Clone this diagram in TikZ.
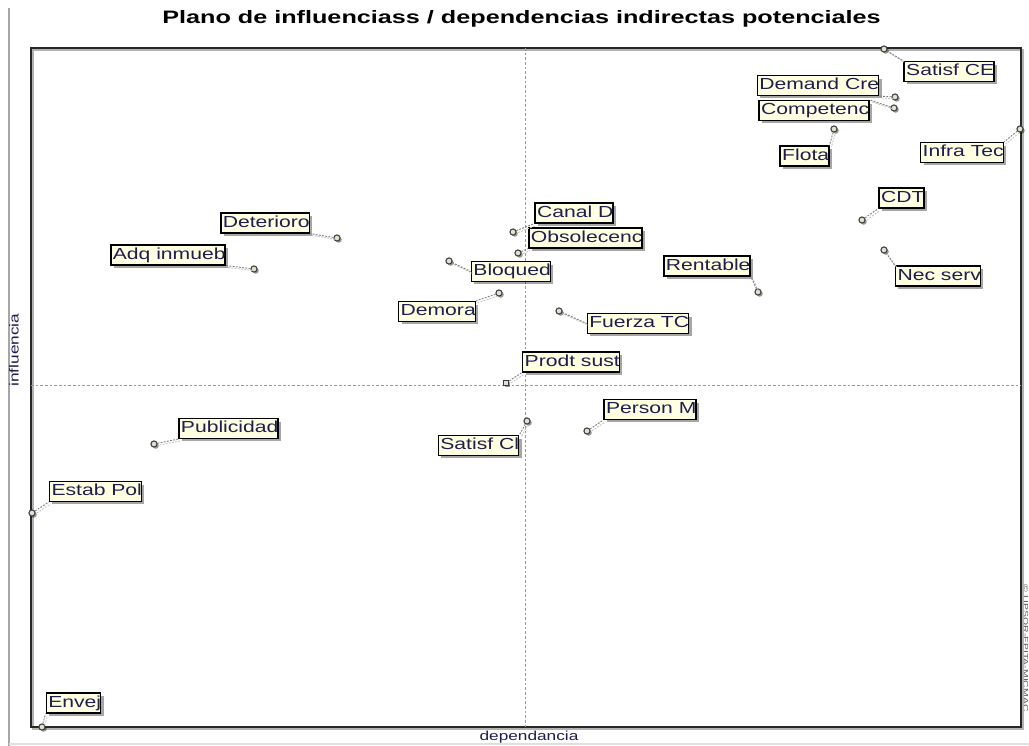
\documentclass[tikz,border=0pt]{standalone}
\usepackage{fontspec}
\setmainfont{Liberation Sans}
\newfontfamily\lblfont[FakeStretch=1.32]{Liberation Sans}
\newfontfamily\ttlfont[FakeStretch=1.4]{Liberation Sans}
\newfontfamily\cpyfont[FakeStretch=1.5]{Liberation Sans}
\usetikzlibrary{shadows}
\definecolor{ink}{RGB}{30,30,80}
\definecolor{cream}{RGB}{255,255,225}
\definecolor{dotfill}{RGB}{225,225,205}
\definecolor{dotline}{RGB}{60,60,60}
\begin{document}
\begin{tikzpicture}[x=0.75pt,y=-0.75pt,
  lbl/.style={draw=black, line width=1.1pt, fill=cream, text=ink,
    font=\lblfont\fontsize{12}{12}\selectfont, inner xsep=1.5pt, inner ysep=0pt,
    text height=8.9pt, text depth=2.6pt, minimum height=14.8pt,
    drop shadow={shadow xshift=2.2pt, shadow yshift=-2.2pt, fill=black, opacity=0.35},
    execute at end node={\kern-1.8pt}},
  dot/.style={circle, draw=dotline, line width=0.8pt, fill=dotfill, inner sep=0pt,
    minimum size=4.6pt,
    drop shadow={shadow xshift=1.3pt, shadow yshift=-1.3pt, fill=black, opacity=0.4}},
  sqdot/.style={dot, rectangle, minimum size=4pt},
  lead/.style={draw=gray, line width=0.7pt, dash pattern=on 1.4pt off 1pt},
  leadsh/.style={draw=gray!45, line width=0.7pt, dash pattern=on 1.4pt off 1pt,
    transform canvas={shift={(1.4pt,-1.4pt)}}},
  cross/.style={draw=gray!80, line width=0.6pt, dash pattern=on 2pt off 1.5pt},
  axlab/.style={font=\lblfont\fontsize{9.8}{10}\selectfont, text=ink, inner sep=0pt},
]
\useasboundingbox (0,0) rectangle (1029,746);
\fill[white] (0,0) rectangle (1029,746);

% window edges
\draw[gray!70, line width=1pt] (9,8) -- (9,746);
\draw[gray!25, line width=0.8pt] (9,744) -- (1029,744);

% title and axis names
\node[font=\ttlfont\bfseries\fontsize{13.5}{16}\selectfont, inner sep=0pt] (title) at (521.5,19)
  {Plano de influenciass / dependencias indirectas potenciales};
\node[axlab] (xlab) at (529,737) {dependancia};
\node[axlab, rotate=90] (ylab) at (14,350) {influencia};
\node[font=\cpyfont\fontsize{5.2}{5.2}\selectfont, text=black!65, rotate=-90, inner sep=0pt] (copy) at (1025.8,648)
  {© LIPSOR-EPITA-MICMAC};

% plot frame with its shadow, and the quadrant axes
\draw[gray!60, line width=1.5pt] (32.5,49.5) rectangle (1022.5,728.5);
\draw[black!85, line width=1.4pt] (31,48) rectangle (1021,727);
\draw[cross] (525,48) -- (525,727);
\draw[cross] (31,385) -- (1021,385);

% variable labels
\node[lbl] (Sat) at (949,71.5) {Satisf CE};
\node[lbl] (Dem) at (818,85.5) {Demand Cre};
\node[lbl] (Com) at (814,110.5) {Competenc};
\node[lbl] (Flo) at (804.5,156) {Flota};
\node[lbl] (Inf) at (962,152.5) {Infra Tec};
\node[lbl] (CDT) at (901.5,198) {CDT};
\node[lbl] (Nec) at (938,276) {Nec serv};
\node[lbl] (Ren) at (707,266) {Rentable};
\node[lbl] (Can) at (574,213) {Canal D};
\node[lbl] (Obs) at (585.5,238) {Obsolecenc};
\node[lbl] (Blo) at (511,271.5) {Bloqued};
\node[lbl] (Dmr) at (437,311.5) {Demora};
\node[lbl] (Fue) at (638,323.5) {Fuerza TC};
\node[lbl] (Det) at (265,223) {Deterioro};
\node[lbl] (Adq) at (168,255) {Adq inmueb};
\node[lbl] (Pro) at (571,362) {Prodt sust};
\node[lbl] (Per) at (650,409.5) {Person M};
\node[lbl] (Scl) at (478.5,445.5) {Satisf Cl};
\node[lbl] (Pub) at (228.5,428.5) {Publicidad};
\node[lbl] (Est) at (95.5,491.5) {Estab Pol};
\node[lbl] (Env) at (73.5,703) {Envej};

% variable positions
\node[dot] (pSat) at (884,49) {};
\node[dot] (pDem) at (895,97) {};
\node[dot] (pCom) at (894,108) {};
\node[dot] (pFlo) at (834,129) {};
\node[dot] (pInf) at (1020,129) {};
\node[dot] (pCDT) at (862,220) {};
\node[dot] (pNec) at (884,250) {};
\node[dot] (pRen) at (758,292) {};
\node[dot] (pCan) at (513,232) {};
\node[dot] (pObs) at (518,253) {};
\node[dot] (pBlo) at (449,261) {};
\node[dot] (pDmr) at (499,293) {};
\node[dot] (pFue) at (559,311) {};
\node[dot] (pDet) at (337,238) {};
\node[dot] (pAdq) at (254,269) {};
\node[sqdot] (pPro) at (506,383) {};
\node[dot] (pPer) at (587,431) {};
\node[dot] (pScl) at (527,421) {};
\node[dot] (pPub) at (154,444) {};
\node[dot] (pEst) at (32,513) {};
\node[dot] (pEnv) at (42,727) {};

% leader lines from each position to its label
\foreach \p/\b in {pSat/Sat.north west, pDem/Dem.south east, pCom/Com.north east,
    pFlo/Flo.north east, pInf/Inf.north east, pCDT/CDT.south west, pNec/Nec.north west,
    pRen/Ren.south east, pCan/Can.south west, pObs/Obs.south west, pBlo/Blo.west,
    pDmr/Dmr.north east, pFue/Fue.west, pDet/Det.south east, pAdq/Adq.south east,
    pPro/Pro.south west, pPer/Per.south west, pScl/Scl.north east, pPub/Pub.south west,
    pEst/Est.south west, pEnv/Env.south west}{
  \draw[leadsh] (\p) -- (\b);
  \draw[lead] (\p) -- (\b);
}
\end{tikzpicture}
\end{document}
